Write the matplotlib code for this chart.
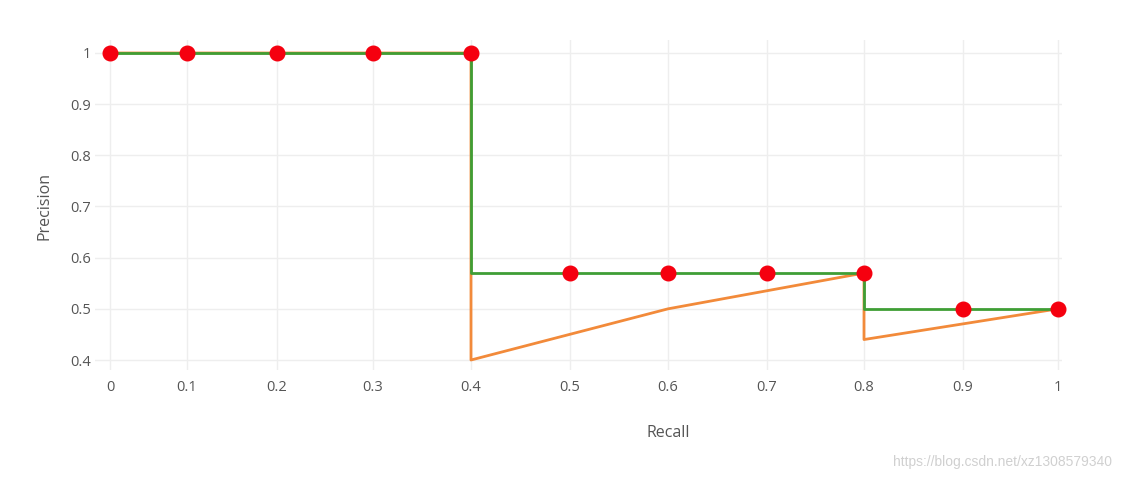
import numpy as np
import matplotlib
matplotlib.use("Agg")
import matplotlib.pyplot as plt

# precision / recall curve (orange)
recall = [0, 0.1, 0.2, 0.3, 0.4, 0.4, 0.6, 0.8, 0.8, 1.0]
precision = [1, 1, 1, 1, 1, 0.4, 0.5, 0.57, 0.44, 0.5]

# interpolated precision (green step line)
interp_recall = [0, 0.4, 0.4, 0.8, 0.8, 1.0]
interp_precision = [1, 1, 0.57, 0.57, 0.5, 0.5]

# 11-point interpolation samples (red dots)
pt_recall = [0, 0.1, 0.2, 0.3, 0.4, 0.5, 0.6, 0.7, 0.8, 0.9, 1.0]
pt_precision = [1, 1, 1, 1, 1, 0.57, 0.57, 0.57, 0.57, 0.5, 0.5]

x_ticks = [0, 0.1, 0.2, 0.3, 0.4, 0.5, 0.6, 0.7, 0.8, 0.9, 1]
x_labels = ["0", "0.1", "0.2", "0.3", "0.4", "0.5", "0.6", "0.7", "0.8", "0.9", "1"]
y_ticks = [0.4, 0.5, 0.6, 0.7, 0.8, 0.9, 1]
y_labels = ["0.4", "0.5", "0.6", "0.7", "0.8", "0.9", "1"]

# the source picture is slightly stretched horizontally, follow its tick spacing
scale_val = [-0.1, 0, 0.1, 0.2, 0.3, 0.4, 0.5, 0.6, 0.7, 0.8, 0.9, 1.0, 1.1]
scale_px = [33, 110, 187, 277, 373, 471, 570, 668, 767, 864, 963, 1058, 1153]


def fwd(v):
    return np.interp(v, scale_val, scale_px)


def inv(p):
    return np.interp(p, scale_px, scale_val)


plt.rcParams["font.family"] = ["Open Sans", "DejaVu Sans"]

W, H = 1122, 480
left, right, top, bottom = 95, 1062, 40, 370

fig = plt.figure(figsize=(W / 100, H / 100), dpi=100)
ax = fig.add_axes([left / W, 1 - bottom / H, (right - left) / W, (bottom - top) / H])
ax.set_xscale("function", functions=(fwd, inv))

ax.plot(recall, precision, color="#f28a3a", lw=2, zorder=2)
ax.plot(interp_recall, interp_precision, color="#3f9e35", lw=2, zorder=3)
ax.plot(pt_recall, pt_precision, "o", color="#f5000f", ms=10.5, mec="#f5000f",
        zorder=4, clip_on=False)

ax.set_xlim(inv(left), inv(right))
ax.set_ylim(0.4 - 10 / 512, 1 + 13 / 512)

ax.set_xticks(x_ticks)
ax.set_xticklabels(x_labels)
ax.set_yticks(y_ticks)
ax.set_yticklabels(y_labels)
ax.tick_params(length=0, labelsize=10.5, labelcolor="#555555")
ax.tick_params(axis="x", pad=7)
ax.tick_params(axis="y", pad=3)
ax.grid(True, color="#eeeeee", lw=1)
ax.set_axisbelow(True)
for s in ax.spines.values():
    s.set_visible(False)

ax.set_xlabel("Recall", fontsize=11.5, color="#555555", va="center")
ax.set_ylabel("Precision", fontsize=11.5, color="#555555", va="center")
ax.xaxis.set_label_coords((668 - left) / (right - left), -(433 - bottom) / (bottom - top))
ax.yaxis.set_label_coords((45 - left) / (right - left), (bottom - 206) / (bottom - top))

fig.text(1112 / W, 1 - 462 / H, "https://blog.csdn.net/xz1308579340",
         ha="right", va="center", fontsize=10, color="#d0d0d0",
         family=["Liberation Sans", "DejaVu Sans"])

fig.savefig("out.png", dpi=100)
